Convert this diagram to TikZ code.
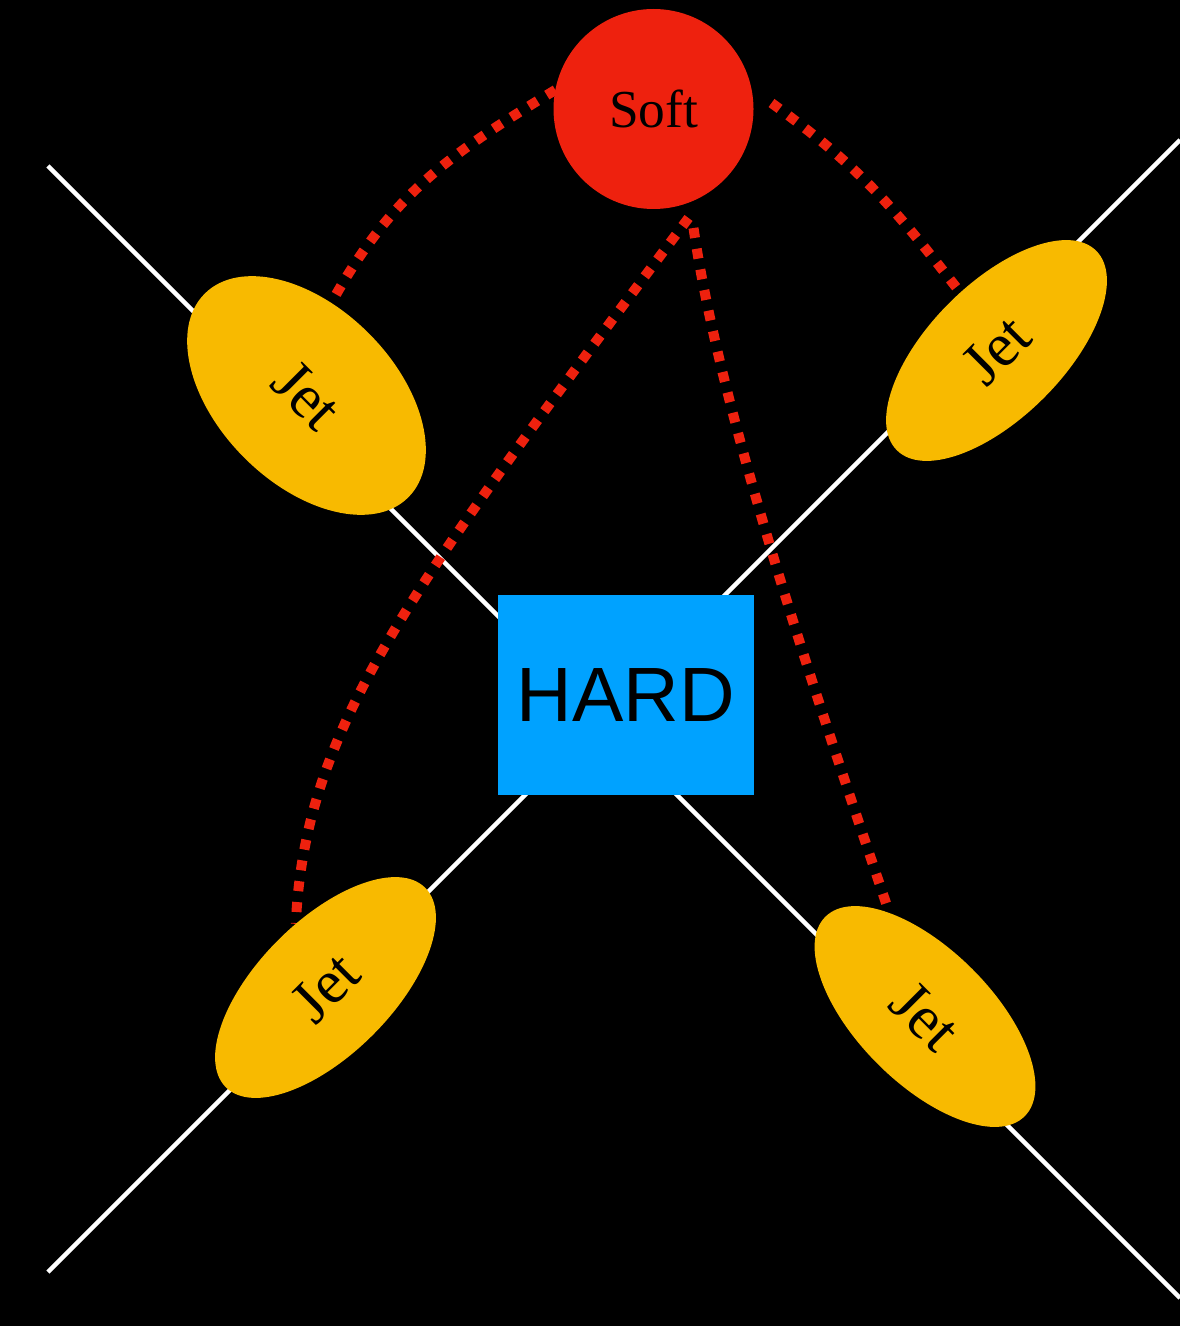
\documentclass[tikz,border=0pt]{standalone}
\usepackage{fontspec}
\setmainfont{Liberation Serif}
\newfontfamily\hardfont{Liberation Sans}
\usetikzlibrary{shapes.geometric,backgrounds,calc}
\definecolor{softred}{RGB}{238,33,14}
\definecolor{jetyellow}{RGB}{248,186,0}
\definecolor{hardblue}{RGB}{0,162,255}
\tikzset{
  jet/.style={ellipse, fill=jetyellow, inner sep=0pt, outer sep=0pt, text=black,
    font=\fontsize{31}{36}\selectfont},
  softnode/.style={circle, fill=softred, minimum size=100pt, inner sep=0pt, outer sep=0pt,
    text=black, font=\fontsize{26.7}{32}\selectfont},
  hardnode/.style={rectangle, fill=hardblue, minimum width=128pt, minimum height=100pt,
    inner sep=0pt, outer sep=0pt, text=black, font=\hardfont\fontsize{38.5}{46}\selectfont},
  axisline/.style={white, line width=2.25pt},
  gluon/.style={softred, line width=5pt, dash pattern=on 5pt off 5.5pt},
}
\begin{document}
\begin{tikzpicture}[x=0.5pt,y=-0.5pt]
\useasboundingbox (0,0) rectangle (1180,1326);
% nodes
\node[softnode] (soft) at (653.5,109) {Soft};
\node[hardnode] (hard) at (626,695) {HARD};
\node[jet, minimum width=144pt, minimum height=88pt, rotate=-45] (j1) at (306.5,395.5) {Jet};
\node[jet, minimum width=141pt, minimum height=67pt, rotate=45] (j2) at (996.5,350.5) {Jet};
\node[jet, minimum width=141pt, minimum height=67pt, rotate=45] (j3) at (325.5,987.5) {Jet};
\node[jet, minimum width=141pt, minimum height=67pt, rotate=-45] (j4) at (925,1016.5) {Jet};
% free ends of the white lines
\coordinate (l1a) at (48,166);
\coordinate (l1b) at (1180,1298);
\coordinate (l2a) at (48,1272);
\coordinate (l2b) at (1180,140);
\begin{scope}[on background layer]
  \fill[black] (0,0) rectangle (1180,1326);
  \draw[axisline] (l1a) -- (l1b);
  \draw[axisline] (l2a) -- (l2b);
  \draw[gluon] (soft.169) .. controls (448.4,155.1) and (391.8,193.8) .. (j1.120);
  \draw[gluon] ($(soft.center)+(118,-6)$) .. controls (860.5,167.7) and (892.6,205.8) .. (j2.77);
  \draw[gluon] ($(soft.center)+(35,109)$) .. controls (416,582) and (305,722) .. (j3.70);
  \draw[gluon] ($(soft.center)+(40,119)$) .. controls (722,424) and (826,725) .. (j4.154);
\end{scope}
\end{tikzpicture}
\end{document}
